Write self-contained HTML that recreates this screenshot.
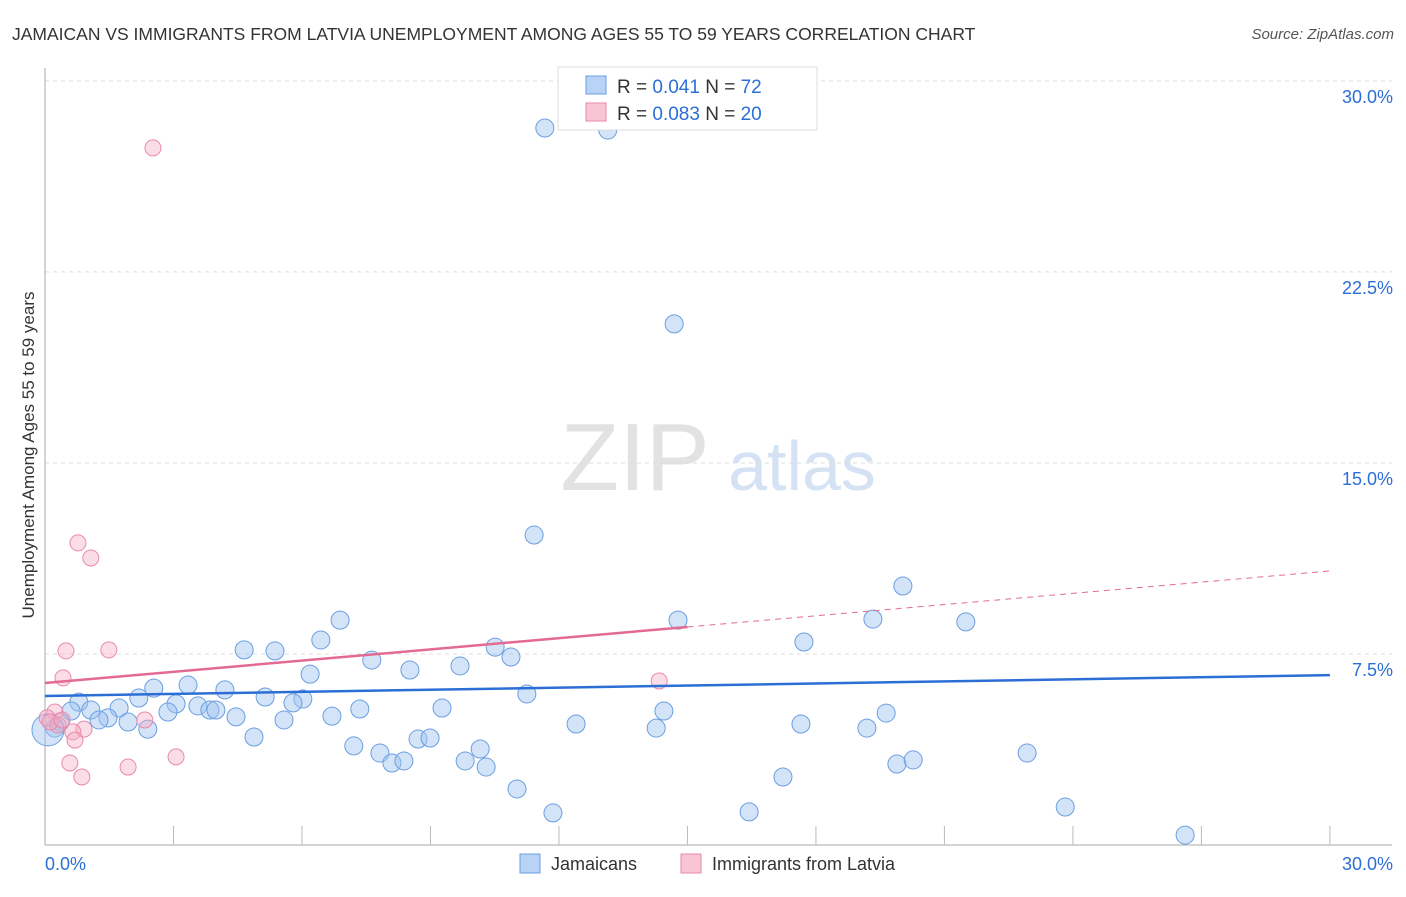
<!DOCTYPE html>
<html><head><meta charset="utf-8"><style>
body{margin:0;background:#fff;font-family:"Liberation Sans",sans-serif;}
svg text{font-family:"Liberation Sans",sans-serif;}
</style></head><body>
<svg id="c" width="1406" height="892">
<text x="12" y="40" font-size="17.5" fill="#333">JAMAICAN VS IMMIGRANTS FROM LATVIA UNEMPLOYMENT AMONG AGES 55 TO 59 YEARS CORRELATION CHART</text>
<text x="1394" y="39" font-size="15" fill="#555" font-style="italic" text-anchor="end">Source: ZipAtlas.com</text>
<g>
<text x="635" y="490" font-size="96" fill="#e2e2e2" font-family="Liberation Serif" text-anchor="middle">ZIP</text>
<text x="802" y="490" font-size="70" fill="#d4e2f4" text-anchor="middle">atlas</text>
</g>
<g id="grid"></g><g id="marks"></g>
<text x="34" y="455" font-size="17" fill="#333" text-anchor="middle" transform="rotate(-90 34 455)">Unemployment Among Ages 55 to 59 years</text>
<g>
<rect x="558" y="67" width="259" height="63" fill="#fff" stroke="#ddd"/>
<rect x="586" y="76" width="20" height="18" fill="#b8d3f5" stroke="#6a9fe0"/>
<text x="617" y="93" font-size="19" fill="#333">R = <tspan fill="#2b6fd6">0.041</tspan>   N = <tspan fill="#2b6fd6">72</tspan></text>
<rect x="586" y="103" width="20" height="18" fill="#f9c4d4" stroke="#e98aa8"/>
<text x="617" y="120" font-size="19" fill="#333">R = <tspan fill="#2b6fd6">0.083</tspan>   N = <tspan fill="#2b6fd6">20</tspan></text>
</g>
<g>
<rect x="520" y="854" width="20" height="19" fill="#b8d3f5" stroke="#6a9fe0"/>
<text x="551" y="870" font-size="18" fill="#333">Jamaicans</text>
<rect x="681" y="854" width="20" height="19" fill="#f9c4d4" stroke="#e98aa8"/>
<text x="712" y="870" font-size="18" fill="#333">Immigrants from Latvia</text>
</g>
</svg>
<script>
const xTicks=[0,3,6,9,12,15,18,21,24,27,30];
const yTicks=[7.5,15,22.5,30];
const yTickLabels=["7.5%","15.0%","22.5%","30.0%"];
const blueX=[11.67,13.14,14.69,11.42,20.03,19.33,21.50,14.78,17.72,6.89,6.44,4.65,5.37,10.51,10.88,7.63,9.69,8.52,6.19,2.54,3.34,4.20,2.19,0.79,5.14,6.02,5.79,3.06,3.57,3.85,3.99,1.73,1.07,0.61,2.87,7.35,9.27,11.25,14.45,19.64,4.46,6.70,1.47,1.94,1.26,5.58,2.40,12.40,17.65,14.27,19.19,0.35,0.23,0.07,4.88,8.71,8.99,7.21,7.82,10.16,9.81,10.30,8.10,8.38,19.89,20.27,22.93,17.23,11.02,11.86,16.44,23.82,26.62];
const blueY=[28.15,28.07,20.46,12.17,10.17,8.87,8.76,8.83,7.97,8.83,8.05,7.66,7.62,7.77,7.38,7.26,7.03,6.87,6.71,6.16,6.28,6.09,5.77,5.61,5.81,5.73,5.58,5.54,5.46,5.30,5.30,5.38,5.30,5.26,5.22,5.34,5.38,5.93,5.26,5.18,5.03,5.06,4.99,4.83,4.91,4.91,4.55,4.75,4.75,4.59,4.59,4.83,4.59,4.52,4.24,4.16,4.20,3.89,3.61,3.77,3.30,3.06,3.22,3.30,3.18,3.34,3.61,2.67,2.20,1.26,1.30,1.49,0.39];
const blueR=[9,9,9,9,9,9,9,9,9,9,9,9,9,9,9,9,9,9,9,9,9,9,9,9,9,9,9,9,9,9,9,9,9,9,9,9,9,9,9,9,9,9,9,9,9,9,9,9,9,9,9,9,9,16,9,9,9,9,9,9,9,9,9,9,9,9,9,9,9,9,9,9,9];
const pinkX=[2.52,0.77,1.07,0.49,1.49,0.42,14.34,0.23,2.33,0.05,0.30,0.91,0.65,0.70,3.06,0.58,1.94,0.86,0.12,0.40];
const pinkY=[27.37,11.86,11.27,7.62,7.66,6.56,6.44,5.22,4.91,4.99,4.71,4.55,4.44,4.12,3.46,3.22,3.06,2.67,4.83,4.91];
const blueTrend=[5.85,6.67];
const pinkTrend=[6.36,10.76];
const pinkSolidEnd=15;
const X=v=>45+v*42.83, Y=v=>845-v*25.47;
const NS="http://www.w3.org/2000/svg";
const grid=document.getElementById('grid'), marks=document.getElementById('marks');
function mk(p,tag,a){const e=document.createElementNS(NS,tag);for(const k in a)e.setAttribute(k,a[k]);p.appendChild(e);return e;}
yTicks.forEach((t,i)=>{
 const l=mk(grid,'line',{x1:45,x2:1392,y1:Y(t),y2:Y(t),stroke:'#ddd','stroke-dasharray':'4,4'});
 
 
 const tx=mk(grid,'text',{x:1393,y:Y(t)+22,'font-size':18,fill:'#2b6fd6','text-anchor':'end'});
 tx.textContent=yTickLabels[i];
 
 
});
let ax=mk(grid,'line',{x1:45,x2:45,y1:68,y2:845,stroke:'#aaa'});


ax=mk(grid,'line',{x1:45,x2:1392,y1:845,y2:845,stroke:'#aaa'});


xTicks.forEach(t=>{if(t===0)return;
 const l=mk(grid,'line',{x1:X(t),x2:X(t),y1:826,y2:845,stroke:'#bbb'});
 
 
});
let t0=mk(grid,'text',{x:45,y:870,'font-size':18,fill:'#2b6fd6'});t0.textContent='0.0%';


t0=mk(grid,'text',{x:1393,y:870,'font-size':18,fill:'#2b6fd6','text-anchor':'end'});t0.textContent='30.0%';


blueX.forEach((v,i)=>{
 const c=mk(marks,'circle',{cx:X(v),cy:Y(blueY[i]),r:blueR[i]||9,fill:'rgba(160,195,240,0.45)',stroke:'#6a9fe0','stroke-width':1});
 
 
});
pinkX.forEach((v,i)=>{
 const c=mk(marks,'circle',{cx:X(v),cy:Y(pinkY[i]),r:8,fill:'rgba(245,170,195,0.4)',stroke:'#e98aa8','stroke-width':1});
 
 
});
let tl=mk(marks,'line',{x1:X(0),y1:Y(blueTrend[0]),x2:X(30),y2:Y(blueTrend[1]),stroke:'#2b6fd6','stroke-width':2.5});


const pm=pinkTrend[0]+(pinkTrend[1]-pinkTrend[0])*pinkSolidEnd/30;
tl=mk(marks,'line',{x1:X(0),y1:Y(pinkTrend[0]),x2:X(pinkSolidEnd),y2:Y(pm),stroke:'#e36a93','stroke-width':2.5});


tl=mk(marks,'line',{x1:X(pinkSolidEnd),y1:Y(pm),x2:X(30),y2:Y(pinkTrend[1]),stroke:'#e36a93','stroke-width':1,'stroke-dasharray':'6,5'});


</script>
</body></html>
